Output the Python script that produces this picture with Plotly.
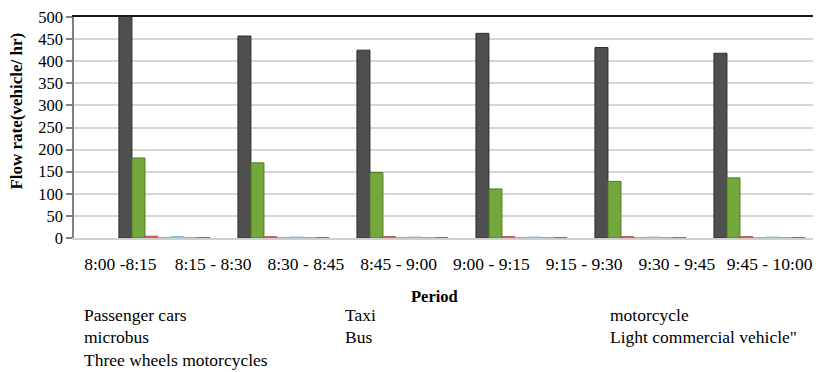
import plotly.graph_objects as go

# ---------------- data ----------------
periods = ["8:00 -8:15", "8:15 - 8:30", "8:30 - 8:45", "8:45 - 9:00",
           "9:00 - 9:15", "9:15 - 9:30", "9:30 - 9:45", "9:45 - 10:00"]
bar_periods = periods[:6]          # six bar clusters drawn in the picture

series_names = ["Passenger cars", "Taxi", "motorcycle", "microbus", "Bus",
                "Light commercial vehicle\"", "Three wheels motorcycles"]
passenger_cars = [520, 457, 425, 463, 431, 418]
taxi = [181, 170, 148, 111, 128, 136]
motorcycle = [4, 3, 3, 3, 3, 3]
microbus = [1, 1, 1, 1, 1, 1]
bus = [3, 2, 2, 2, 2, 2]
light_commercial = [1, 1, 1, 1, 1, 1]
three_wheels = [1, 1, 1, 1, 1, 1]

y_ticks = [0, 50, 100, 150, 200, 250, 300, 350, 400, 450, 500]

# ---------------- styling ----------------
series_values = [passenger_cars, taxi, motorcycle, microbus, bus,
                 light_commercial, three_wheels]
fills = ["#4f4f4f", "#74a83c", "#e06a66", "#bcd88e", "#9dd3ec", "#f2b784", "#c7a6dc"]
edges = ["#2e2e2e", "#4d7a22", "#c0504d", "#9bbb59", "#6fb9dc", "#e0954f", "#8064a2"]

SERIF = "Liberation Serif"

fig = go.Figure()

# invisible trace registering the period categories on the visible axis
fig.add_trace(go.Scatter(x=periods, y=[0] * len(periods), mode="none",
                         showlegend=False, hoverinfo="skip", xaxis="x", yaxis="y"))

for name, vals, fc, ec in zip(series_names, series_values, fills, edges):
    fig.add_trace(go.Bar(
        x=bar_periods, y=vals, name=name, xaxis="x2", yaxis="y",
        marker=dict(color=fc, line=dict(color=ec, width=1)),
        showlegend=False,
    ))

# page body has an 8px default margin: size the figure to fit the window
fig.update_layout(
    width=813, height=364,
    margin=dict(l=66, r=5, t=9, b=133.5, autoexpand=False),
    paper_bgcolor="white", plot_bgcolor="white",
    barmode="group", bargap=0.235, bargroupgap=0,
    font=dict(family=SERIF, color="black"),
    xaxis=dict(
        type="category", categoryarray=periods, range=[-0.5, 7.5],
        showgrid=False, ticks="", ticklabelstandoff=9, automargin=False,
        tickfont=dict(family=SERIF, size=17.5, color="black"),
        showline=True, linecolor="#d0d0d0", linewidth=2, zeroline=False,
    ),
    xaxis2=dict(
        type="category", categoryarray=bar_periods, range=[-0.76, 5.475],
        overlaying="x", side="top", showticklabels=False, ticks="",
        showgrid=False, showline=True, linecolor="#1a1a1a", linewidth=2,
        zeroline=False, automargin=False,
    ),
    yaxis=dict(
        range=[0, 500], tickvals=y_ticks, ticks="outside", ticklen=6,
        tickcolor="#808080", tickwidth=1.5, automargin=False,
        ticklabeloverflow="allow",
        showline=True, linecolor="#808080", linewidth=1.5,
        showgrid=True, gridcolor="#d6d6d6", gridwidth=1.5,
        zeroline=False,
        tickfont=dict(family=SERIF, size=16.5, color="black"),
    ),
    yaxis2=dict(
        range=[0, 500], overlaying="y", side="right", showticklabels=False,
        ticks="", showgrid=False, showline=True, linecolor="#d6d6d6",
        linewidth=1.5, zeroline=False, automargin=False,
    ),
)

# axis titles
fig.add_annotation(text="<b>Flow rate(vehicle/ hr)</b>", textangle=-90,
                   xref="paper", yref="paper", x=-0.077, y=0.576,
                   xanchor="center", yanchor="middle", showarrow=False,
                   font=dict(family=SERIF, size=17, color="black"))
fig.add_annotation(text="<b>Period</b>", xref="paper", yref="paper",
                   x=0.4865, y=-0.265, xanchor="center", yanchor="middle",
                   showarrow=False, font=dict(family=SERIF, size=16.5, color="black"))

# legend text (no symbols in the reference), three columns
col_x = [0.0108, 0.3625, 0.7197]
row_y = [-0.35, -0.449, -0.553]
for i, name in enumerate(series_names):
    fig.add_annotation(text=name, xref="paper", yref="paper",
                       x=col_x[i % 3], y=row_y[i // 3],
                       xanchor="left", yanchor="middle", showarrow=False,
                       font=dict(family=SERIF, size=17.5, color="black"))

fig.write_html("out.html")
